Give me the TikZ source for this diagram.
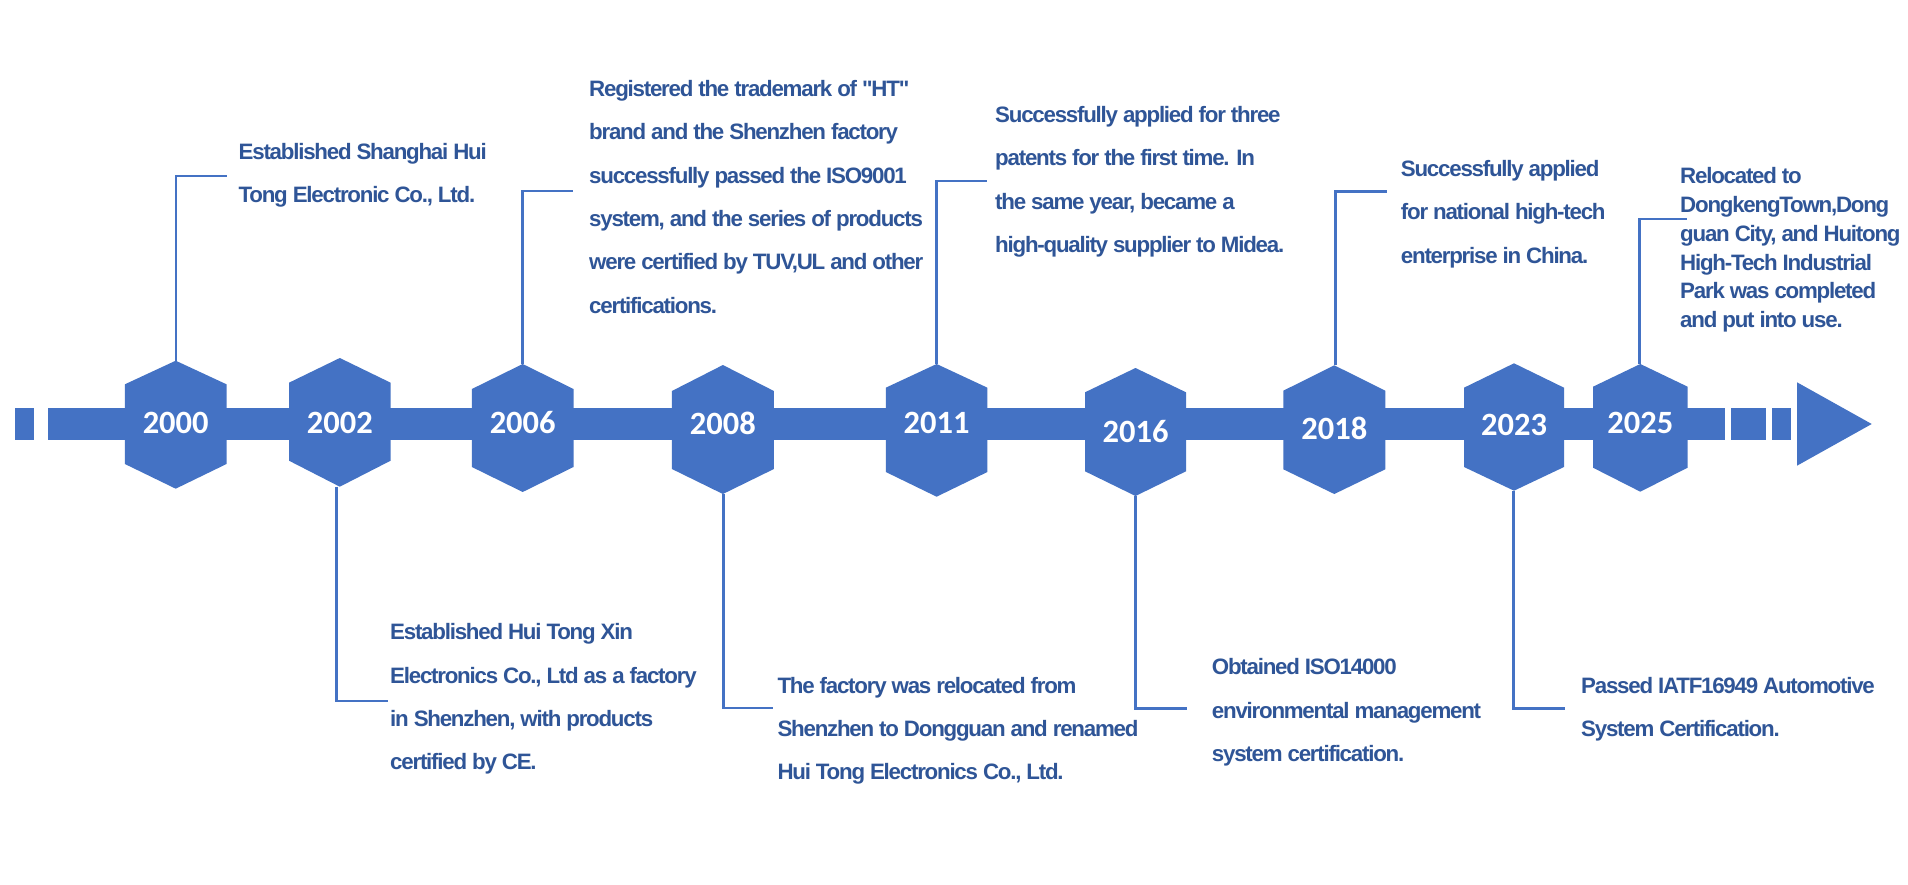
\documentclass[tikz,border=0pt]{standalone}
\usepackage{fontspec}
\newfontfamily\descfont{Liberation Sans}[LetterSpace=-5.5]
\newfontfamily\yearfont{Carlito}
\definecolor{hexblue}{HTML}{4472C4}
\definecolor{txtblue}{HTML}{2F5597}
\newcommand\hexat[8]{% cx, top, side1, side2, bottom, halfwidth, texty, year
  \fill[hexshape] (#1,#2) -- (#1+#6,#3) -- (#1+#6,#4) -- (#1,#5) -- (#1-#6,#4) -- (#1-#6,#3) -- cycle;
  \node[yearlbl] (y#8) at (#1,#7) {#8};
}
\begin{document}
\begin{tikzpicture}[x=1pt,y=-1pt,
  barpart/.style={fill=hexblue},
  hexshape/.style={fill=hexblue},
  yearlbl/.style={text=white, font=\yearfont\bfseries\fontsize{32.5}{34}\selectfont, inner sep=0pt, anchor=center},
  desc/.style={text=txtblue, font=\descfont\bfseries\fontsize{22.3}{43.3}\selectfont, align=left, inner sep=0pt, anchor=north west},
  desctight/.style={desc, font=\descfont\bfseries\fontsize{22.3}{28.7}\selectfont},
  link/.style={draw=hexblue, line width=2.4pt}
]
\useasboundingbox[fill=white] (0,0) rectangle (1908,885);

% bar and arrow
\fill[barpart] (15.1,408) rectangle (33.9,440);
\fill[barpart] (48.2,408) rectangle (1725,440);
\fill[barpart] (1731,408) rectangle (1766,440);
\fill[barpart] (1772,408) rectangle (1791,440);
\fill[barpart] (1797,382.3) -- (1871.7,424) -- (1797,465.7) -- cycle;

% hexagons with years
\hexat{175.7}{360.7}{384.3}{464}{488.7}{50.8}{423}{2000}
\hexat{339.8}{358}{382.7}{460.7}{486.7}{50.8}{423.3}{2002}
\hexat{522.7}{364}{389}{467}{492}{50.8}{422.7}{2006}
\hexat{722.9}{365}{391}{469}{494}{51}{423.3}{2008}
\hexat{936.6}{364}{387.7}{472}{496.7}{50.8}{423}{2011}
\hexat{1135.5}{368}{392.3}{471.3}{496}{50.5}{431.7}{2016}
\hexat{1334.3}{365.3}{390.7}{469.3}{494}{51}{428.3}{2018}
\hexat{1514}{363.3}{387.7}{467}{490.7}{50}{425}{2023}
\hexat{1640.3}{364}{386.7}{467.7}{491.7}{47.3}{422.7}{2025}

% connector end points
\coordinate (t2000) at (176,360.7);   \coordinate (e2000) at (226.7,176);
\coordinate (t2002) at (336.5,486.7); \coordinate (e2002) at (387.7,700.7);
\coordinate (t2006) at (522.4,364);   \coordinate (e2006) at (573.3,191);
\coordinate (t2008) at (723.5,494);   \coordinate (e2008) at (773.3,708);
\coordinate (t2011) at (936.6,364);   \coordinate (e2011) at (986.7,181.3);
\coordinate (t2016) at (1135.3,496);  \coordinate (e2016) at (1186.7,708.3);
\coordinate (t2018) at (1335.5,365.3);\coordinate (e2018) at (1387.3,191.5);
\coordinate (t2023) at (1513.3,490.7);\coordinate (e2023) at (1565,708.3);
\coordinate (t2025) at (1639.3,364);  \coordinate (e2025) at (1687.3,219);
\foreach \yr in {2000,2002,2006,2008,2011,2016,2018,2023,2025}
  \draw[link] (t\yr) |- (e\yr);

% descriptions
\node[desc] (d2000) at (238.5,142.7) {Established Shanghai Hui\\Tong Electronic Co., Ltd.};
\node[desc] (d2002) at (390,623.4) {Established Hui Tong Xin\\Electronics Co., Ltd as a factory\\in Shenzhen, with products\\certified by CE.};
\node[desc] (d2006) at (589,80.2) {Registered the trademark of "HT"\\brand and the Shenzhen factory\\successfully passed the ISO9001\\system, and the series of products\\were certified by TUV,UL and other\\certifications.};
\node[desc] (d2008) at (777.3,676.9) {The factory was relocated from\\Shenzhen to Dongguan and renamed\\Hui Tong Electronics Co., Ltd.};
\node[desc] (d2011) at (995,106.2) {Successfully applied for three\\patents for the first time. In\\the same year, became a\\high-quality supplier to Midea.};
\node[desc] (d2016) at (1211.7,658.5) {Obtained ISO14000\\environmental management\\system certification.};
\node[desc] (d2018) at (1400.7,160.3) {Successfully applied\\for national high-tech\\enterprise in China.};
\node[desc] (d2023) at (1581,676.9) {Passed IATF16949 Automotive\\System Certification.};
\node[desctight] (d2025) at (1680,167.6) {Relocated to\\DongkengTown,Dong\\guan City, and Huitong\\High-Tech Industrial\\Park was completed\\and put into use.};
\end{tikzpicture}
\end{document}
